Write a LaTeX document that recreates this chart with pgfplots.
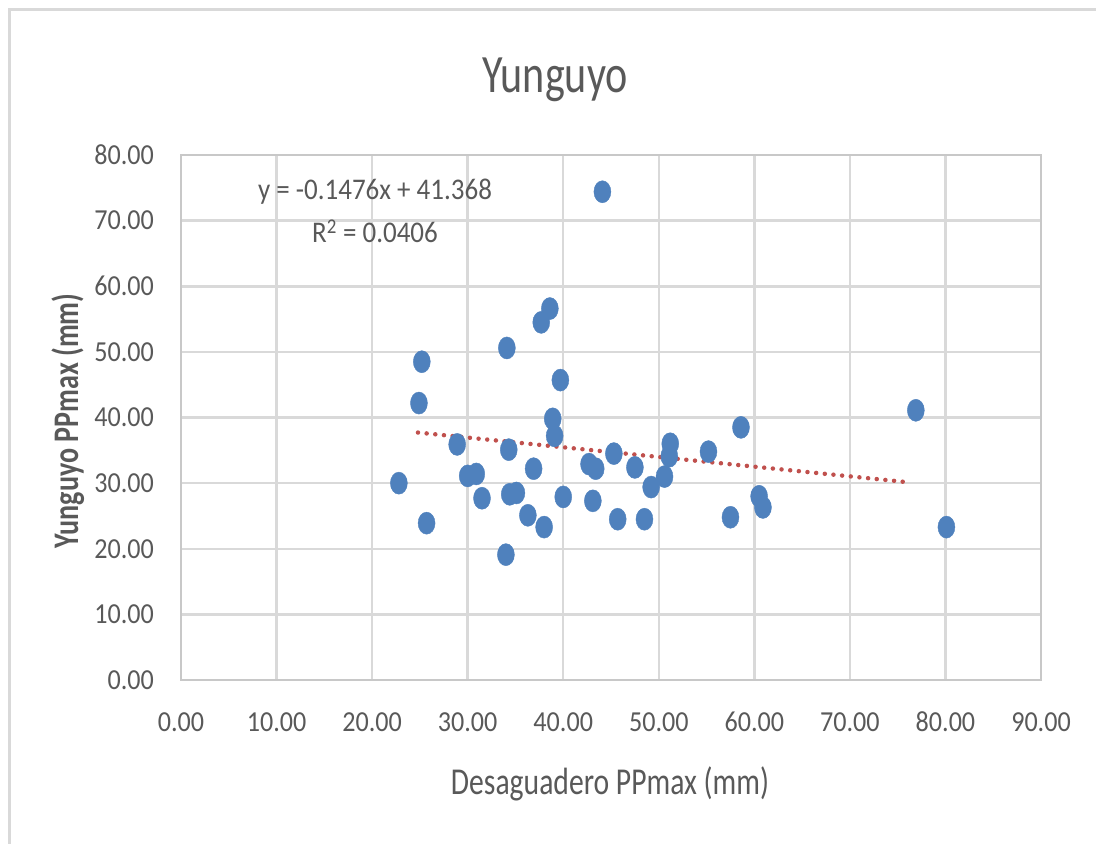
\documentclass[border=0pt]{standalone}
\usepackage{fontspec}
\usepackage{pgfplots}
\pgfplotsset{compat=1.18}
\setmainfont{Carlito}[FakeStretch=0.9]
\newfontfamily\condfont{Carlito}[FakeStretch=0.78]
\definecolor{txt}{RGB}{89,89,89}
\definecolor{ptblue}{RGB}{79,129,189}
\definecolor{trend}{RGB}{192,80,77}
\definecolor{gridc}{RGB}{217,217,217}
\definecolor{axc}{RGB}{200,200,200}
\pgfplotstableread{
x y
22.8 30.0
24.9 42.2
25.2 48.5
25.7 23.9
28.9 35.9
30.0 31.1
30.9 31.4
31.5 27.7
34.1 50.6
34.3 35.1
34.0 19.1
34.4 28.3
35.1 28.5
36.3 25.1
36.9 32.2
37.7 54.5
38.6 56.6
38.0 23.3
38.9 39.8
39.1 37.2
39.7 45.7
40.0 27.9
42.7 32.9
43.4 32.2
43.1 27.3
44.1 74.4
45.3 34.5
45.7 24.5
47.5 32.4
48.5 24.5
49.2 29.4
50.6 31.0
51.2 36.0
51.1 34.1
55.2 34.8
57.5 24.8
58.6 38.5
60.5 28.0
60.9 26.3
76.9 41.1
80.1 23.3
}\datatable
\begin{document}
\begin{tikzpicture}[x=1bp,y=1bp]
\useasboundingbox (0,0) rectangle (1096,-844);
\draw[gridc, line width=3bp] (9,-860) -- (9,-9) -- (1110,-9);
\begin{axis}[
  at={(181bp,-680bp)}, anchor=south west,
  scale only axis, width=860bp, height=525bp,
  xmin=0, xmax=90, ymin=0, ymax=80,
  xtick={0,10,...,90}, ytick={0,10,...,80},
  grid=major,
  major grid style={gridc, line width=2.5bp},
  axis line style={axc, line width=2.5bp},
  major tick length=0pt,
  /pgf/number format/assume math mode=true,
  ticklabel style={font=\fontsize{29bp}{34bp}\selectfont, text=txt, inner sep=0pt,
    /pgf/number format/fixed, /pgf/number format/fixed zerofill, /pgf/number format/precision=2},
  xticklabel style={anchor=base, yshift=-51bp},
  yticklabel style={anchor=east, xshift=-27bp},
  clip=false,
]
\addplot[only marks, mark=*, mark size=8.5bp, color=ptblue, mark options={yscale=1.3, fill=ptblue, draw=ptblue}] table[x=x,y=y] {\datatable};
\addplot[trend, line width=4.5bp, dash pattern=on 0pt off 8.7bp, line cap=round] coordinates {(24.8,37.71) (76.4,30.09)};
\end{axis}
\node[anchor=base, text=txt, font=\condfont\fontsize{54bp}{60bp}\selectfont] at (555,-92) {Yunguyo};
\node[anchor=base, text=txt, font=\condfont\fontsize{38bp}{44bp}\selectfont] at (610,-794) {Desaguadero PPmax (mm)};
\node[anchor=base, rotate=90, text=txt, font=\condfont\bfseries\fontsize{36bp}{42bp}\selectfont] at (78,-421) {Yunguyo PPmax (mm)};
\node[anchor=base, text=txt, font=\fontsize{30bp}{36bp}\selectfont] at (375,-199) {y = -0.1476x + 41.368};
\node[anchor=base, text=txt, font=\fontsize{30bp}{36bp}\selectfont] at (375,-242) {R\textsuperscript{2} = 0.0406};
\end{tikzpicture}
\end{document}
